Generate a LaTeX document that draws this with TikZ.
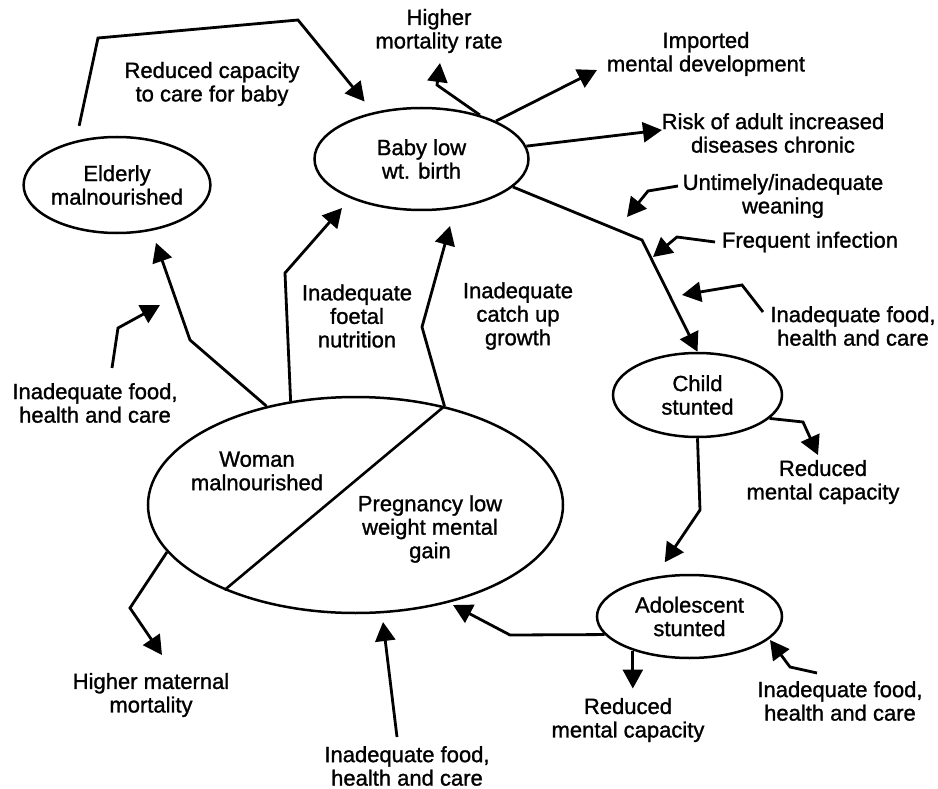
\documentclass[tikz,border=0pt]{standalone}
\usepackage{fontspec}
\setmainfont{Liberation Sans}[FakeBold=1.2]
\usetikzlibrary{shapes.geometric,arrows.meta}
\newcommand{\fs}{\fontsize{22}{23.5}\selectfont}
\tikzset{
  oval/.style={ellipse, draw, line width=2.5pt, inner sep=0pt, align=center, font=\fs},
  lbl/.style={align=center, font=\fs, inner sep=1pt},
  arr/.style={line width=2.8pt, -{Triangle[length=19pt,width=20pt]}, line join=miter},
  ln/.style={line width=2.6pt, line join=miter},
}
\begin{document}
\begin{tikzpicture}[x=1pt,y=-1pt]
\useasboundingbox (0,0) rectangle (938,789);
\fill[white] (0,0) rectangle (938,789);

% ellipses
\node[oval, minimum width=184pt, minimum height=96pt] (elderly) at (117,185) {Elderly\\malnourished};
\node[oval, minimum width=214pt, minimum height=102pt] (baby) at (421.5,159) {Baby low\\wt. birth};
\node[oval, minimum width=169pt, minimum height=84pt] (child) at (697.5,395) {Child\\stunted};
\node[oval, minimum width=185pt, minimum height=83pt] (adol) at (689.5,616.5) {Adolescent\\stunted};
\node[oval, minimum width=415pt, minimum height=216pt] (woman) at (355.5,505) {};
\node[lbl] (twoman) at (257,471) {Woman\\malnourished};
\node[lbl] (tpreg) at (430,529) {Pregnancy low\\weight mental\\gain};
\draw[ln] (woman.48) -- (woman.-147);

% labels
\node[lbl] (tredcap) at (212,84) {Reduced capacity\\to care for baby};
\node[lbl] (thighmort) at (439,31) {Higher\\mortality rate};
\node[lbl] (timported) at (706,54) {Imported\\mental development};
\node[lbl] (trisk) at (773,133) {Risk of adult increased\\diseases chronic};
\node[lbl] (tuntimely) at (783,196) {Untimely/inadequate\\weaning};
\node[lbl] (tfreq) at (810,242) {Frequent infection};
\node[lbl] (tfoodA) at (853,326) {Inadequate food,\\health and care};
\node[lbl] (tredmenA) at (823,482) {Reduced\\mental capacity};
\node[lbl] (tcatch) at (518,316) {Inadequate\\catch up\\growth};
\node[lbl] (tfoetal) at (357,316) {Inadequate\\foetal\\nutrition};
\node[lbl] (tfoodB) at (95,403) {Inadequate food,\\health and care};
\node[lbl] (thmm) at (151,695) {Higher maternal\\mortality};
\node[lbl] (tfoodC) at (407,766) {Inadequate food,\\health and care};
\node[lbl] (tredmenB) at (628,720) {Reduced\\mental capacity};
\node[lbl] (tfoodD) at (840,701) {Inadequate food,\\health and care};

% free ends
\coordinate (hmTip) at (440,63);
\coordinate (impTip) at (597,70);
\coordinate (riskTip) at (662,130);
\coordinate (untS) at (678,186);
\coordinate (untTip) at (627,217);
\coordinate (freqS) at (715,242);
\coordinate (freqTip) at (653,257);
\coordinate (foodAS) at (763,312);
\coordinate (foodATip) at (682,295);
\coordinate (redATip) at (818,455);
\coordinate (foodBS) at (112,368);
\coordinate (foodBTip) at (160,305);
\coordinate (foetTip) at (342,208);
\coordinate (catchTip) at (450,226);
\coordinate (hmmTip) at (162,655);
\coordinate (foodCS) at (397,737);
\coordinate (foodCTip) at (383,622);
\coordinate (adolTip) at (453,605);
\coordinate (foodDS) at (817,673);
\coordinate (foodDTip) at (770,640);

% connectors
\draw[arr] ([yshift=14pt]elderly.130) -- (98,38) -- (298,20) -- ([yshift=13pt]baby.142.7);
\draw[arr] (baby.37) -- (437,85) -- (hmTip);
\draw[arr] (baby.27.4) -- (impTip);
\draw[arr] (baby.7.6) -- (riskTip);
\draw[arr] (baby.-17) -- (642,240) -- (child.north);
\draw[arr] (untS) -- (648,191) -- (untTip);
\draw[arr] (freqS) -- (677,237) -- (freqTip);
\draw[arr] (foodAS) -- (742,285) -- (foodATip);
\draw[arr] (child.-18) -- (803,422) -- (redATip);
\draw[arr] (child.south) -- (700,510) -- ([yshift=13pt]adol.121.5);
\draw[arr] (woman.132) -- (190,340) -- ([yshift=-13pt]elderly.-49);
\draw[arr] (foodBS) -- (118,328) -- (foodBTip);
\draw[arr] (woman.122) -- (285,273) -- (foetTip);
\draw[arr] (woman.48) -- (422,327) -- (catchTip);
\draw[arr] (woman.194) -- (130,608) -- (hmmTip);
\draw[arr] (foodCS) -- (foodCTip);
\draw[arr] (adol.192) -- (510,635) -- (adolTip);
\draw[arr] (adol.211) -- ++(0,38);
\draw[arr] (foodDS) -- (790,667) -- (foodDTip);
\end{tikzpicture}
\end{document}
